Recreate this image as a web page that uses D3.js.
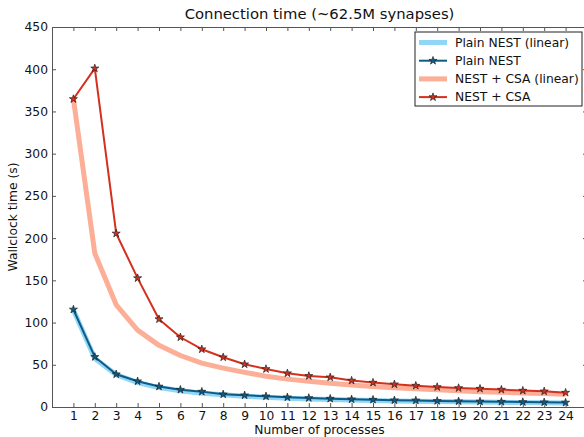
<!DOCTYPE html>
<html lang="en">
<head>
  <meta charset="UTF-8">
  <title>Connection time</title>
  <style>
    body {
      margin: 0;
      font-family: "DejaVu Sans", sans-serif;
      background: #fff;
    }
    svg {
      display: block;
    }
    .axis path, .axis line {
      stroke: #555;
    }
    .axis text {
      fill: #111;
      font-size: 12.3px;
      font-family: "DejaVu Sans", sans-serif;
    }
    .title {
      font-size: 14.8px;
      fill: #111;
      text-anchor: middle;
    }
    .axis_legend {
      font-size: 12.3px;
      fill: #111;
      text-anchor: middle;
    }
    .legend text {
      font-size: 12.3px;
      fill: #111;
    }
  </style>
  <script src="https://d3js.org/d3.v7.min.js"></script>
</head>
<body>
  <div id="chart"></div>
  <script>
/* global d3 */

var processes = d3.range(1, 25);

var plainLinear = [115, 57.5, 38.3, 28.8, 23, 19.2, 16.4, 14.4, 12.8, 11.5, 10.5, 9.6,
  8.8, 8.2, 7.7, 7.2, 6.8, 6.4, 6.1, 5.8, 5.5, 5.2, 5.0, 4.8];
var plainNest = [115.5, 59.3, 38.8, 30.5, 24.3, 20.5, 18.2, 15, 13.9, 12.7, 11.5, 10.7,
  9.9, 9.1, 8.7, 8.0, 7.8, 7.2, 6.8, 6.5, 6.2, 5.9, 5.6, 5.3];
var csaLinear = [365, 182, 121, 91, 73, 61, 52, 46, 41, 36.5, 33, 30.4,
  28, 26, 24.3, 22.8, 21.5, 20.3, 19.2, 18.2, 17.4, 16.6, 15.9, 15.2];
var nestCsa = [364.7, 401, 205.5, 152.6, 104, 82.6, 68.4, 58.9, 50.6, 45, 40, 36.8,
  35.2, 31.3, 28.9, 26.9, 25.3, 23.7, 22.5, 21.7, 20.6, 19.4, 18.6, 17];

var yTicks = [0, 50, 100, 150, 200, 250, 300, 350, 400, 450];

var series = [
  {name: "Plain NEST (linear)", values: plainLinear, color: "#8fd6f7", width: 5, star: false},
  {name: "Plain NEST", values: plainNest, color: "#0e5b85", width: 2, star: true},
  {name: "NEST + CSA (linear)", values: csaLinear, color: "#fcae96", width: 5, star: false},
  {name: "NEST + CSA", values: nestCsa, color: "#d4301e", width: 2, star: true}
];

var width = 584, height = 437;
var margin = {top: 27, right: -3, bottom: 30, left: 52};
var w = width - margin.left - margin.right,
  h = height - margin.top - margin.bottom;

var svg = d3.select("#chart")
  .append("svg")
  .attr("width", width)
  .attr("height", height);

var g = svg.append("g")
  .attr("transform", "translate(" + margin.left + "," + margin.top + ")");

var x = d3.scaleLinear().domain([0, 25]).range([0, w]);
var y = d3.scaleLinear().domain([0, 450]).range([h, 0]);

// axes, matplotlib style: ticks pointing inward
g.append("g")
  .attr("class", "axis axis--x")
  .attr("transform", "translate(0," + h + ")")
  .call(d3.axisBottom(x).tickValues(processes).tickSizeInner(-4).tickSizeOuter(0).tickPadding(4)
    .tickFormat(d3.format("d")));

g.append("g")
  .attr("class", "axis axis--top")
  .call(d3.axisTop(x).tickValues(processes).tickSizeInner(-4).tickSizeOuter(0).tickFormat(""));

g.append("g")
  .attr("class", "axis axis--y")
  .call(d3.axisLeft(y).tickValues(yTicks).tickSizeInner(-4).tickSizeOuter(0).tickPadding(4));

g.append("g")
  .attr("class", "axis axis--right")
  .attr("transform", "translate(" + w + ",0)")
  .call(d3.axisRight(y).tickValues(yTicks).tickSizeInner(-4).tickSizeOuter(0).tickFormat(""));

var line = d3.line()
  .x(function (d, i) { return x(processes[i]); })
  .y(function (d) { return y(d); });

var star = d3.symbol().type(d3.symbolStar).size(20);

series.forEach(function (s) {
  g.append("path")
    .datum(s.values)
    .attr("fill", "none")
    .attr("stroke", s.color)
    .attr("stroke-width", s.width)
    .attr("stroke-linejoin", "round")
    .attr("d", line);

  if (s.star) {
    g.selectAll(null)
      .data(s.values)
      .enter()
      .append("path")
      .attr("d", star)
      .attr("transform", function (d, i) {
        return "translate(" + x(processes[i]) + "," + y(d) + ")";
      })
      .attr("fill", s.color)
      .attr("stroke", "#222")
      .attr("stroke-width", 0.7);
  }
});

// title and labels
svg.append("text")
  .attr("class", "title")
  .attr("x", margin.left + w / 2)
  .attr("y", 19)
  .text("Connection time (~62.5M synapses)");

svg.append("text")
  .attr("class", "axis_legend")
  .attr("x", margin.left + w / 2)
  .attr("y", 434)
  .text("Number of processes");

svg.append("text")
  .attr("class", "axis_legend")
  .attr("transform", "translate(17," + (margin.top + h / 2) + ") rotate(-90)")
  .text("Wallclock time (s)");

// legend
var legend = svg.append("g")
  .attr("class", "legend")
  .attr("transform", "translate(415,32)");

legend.append("rect")
  .attr("width", 167)
  .attr("height", 74)
  .attr("fill", "#fff")
  .attr("stroke", "#222")
  .attr("stroke-width", 1);

var items = legend.selectAll(".item")
  .data(series)
  .enter()
  .append("g")
  .attr("class", "item")
  .attr("transform", function (d, i) { return "translate(0," + (10.5 + i * 18.2) + ")"; });

items.append("line")
  .attr("x1", 4)
  .attr("x2", 32)
  .attr("stroke", function (d) { return d.color; })
  .attr("stroke-width", function (d) { return d.width; });

items.filter(function (d) { return d.star; })
  .append("path")
  .attr("d", star)
  .attr("transform", "translate(18,0)")
  .attr("fill", function (d) { return d.color; })
  .attr("stroke", "#222")
  .attr("stroke-width", 0.7);

items.append("text")
  .attr("x", 40)
  .attr("dy", "0.35em")
  .text(function (d) { return d.name; });
  </script>
</body>
</html>
